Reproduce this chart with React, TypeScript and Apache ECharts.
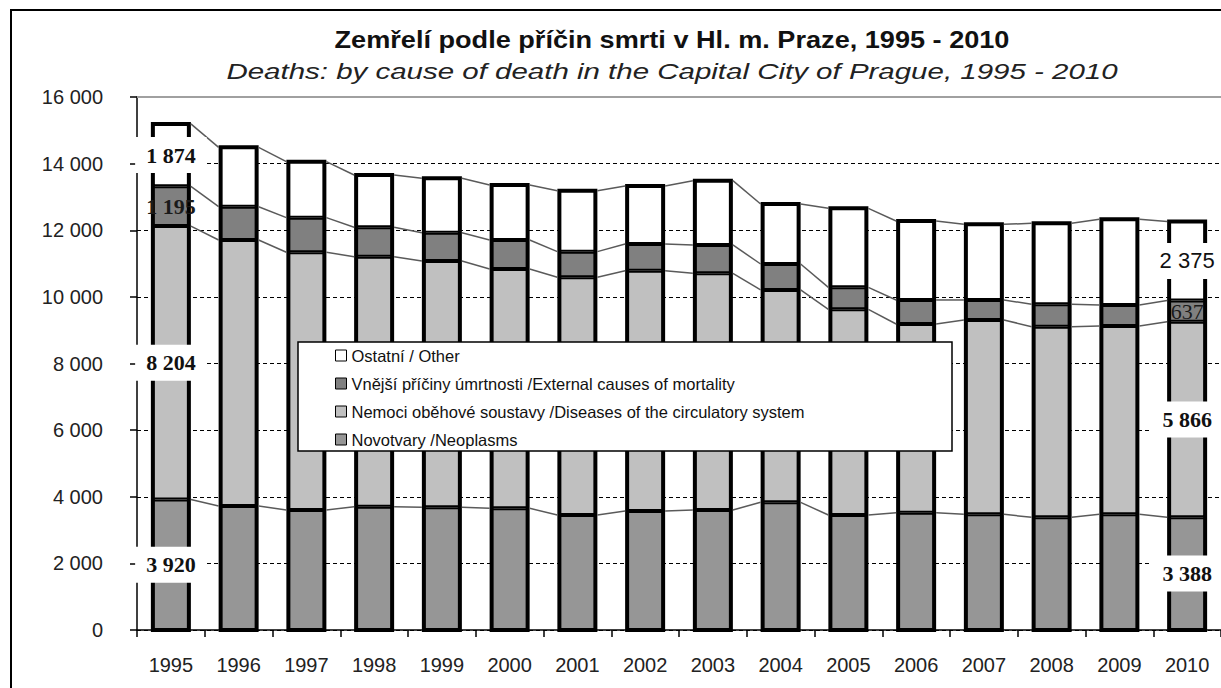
import React, { useEffect, useRef } from "react";
import * as echarts from "echarts";

const years = ["1995", "1996", "1997", "1998", "1999", "2000", "2001", "2002", "2003", "2004", "2005", "2006", "2007", "2008", "2009", "2010"];
const neoplasms = [3920, 3722, 3602, 3702, 3683, 3653, 3452, 3572, 3602, 3833, 3452, 3522, 3472, 3382, 3472, 3388];
const circulatory = [8204, 7986, 7736, 7505, 7394, 7184, 7136, 7215, 7106, 6374, 6175, 5664, 5834, 5724, 5654, 5866];
const external = [1195, 999, 1040, 882, 850, 871, 770, 801, 850, 780, 660, 721, 601, 671, 631, 637];
const other = [1874, 1783, 1681, 1570, 1633, 1651, 1831, 1741, 1931, 1801, 2371, 2371, 2271, 2431, 2571, 2375];

const names = [
  "Novotvary /Neoplasms",
  "Nemoci oběhové soustavy /Diseases of the circulatory system",
  "Vnější příčiny úmrtnosti /External causes of mortality",
  "Ostatní / Other",
];
const titleText = "Zemřelí podle příčin smrti v Hl. m. Praze, 1995 - 2010";
const subtitleText = "Deaths: by cause of death in the Capital City of Prague, 1995 - 2010";
const colors = ["#969696", "#c0c0c0", "#808080", "#ffffff"];
const yTicks = { min: 0, max: 16000, interval: 2000 };

const SANS = '"Liberation Sans", Arial, sans-serif';
const SERIF = '"Liberation Serif", "Times New Roman", serif';
const HALF = 20;
const BAR_W = 36;

const fmt = (v: number) => String(v).replace(/\B(?=(\d{3})+(?!\d))/g, " ");

const boxLabel = (fam: string, bold: boolean) => ({
  show: true,
  position: "inside",
  fontFamily: fam,
  fontWeight: bold ? "bold" : "normal",
  fontSize: 22,
  color: "#111",
  textBorderWidth: 0,
  backgroundColor: "#fff",
  padding: [7, 11],
});
const plainLabel = (fam: string, bold: boolean) => ({
  show: true,
  position: "inside",
  fontFamily: fam,
  fontWeight: bold ? "bold" : "normal",
  fontSize: 22,
  color: "#1a1a1a",
  textBorderWidth: 0,
});

export default function App() {
  const ref = useRef<HTMLDivElement>(null);
  useEffect(() => {
    if (!ref.current) return;
    const chart = echarts.init(ref.current, null, { renderer: "svg" });
    const stacks = [neoplasms, circulatory, external, other];
    const cums: number[][] = [];
    stacks.forEach((arr, k) => {
      cums.push(arr.map((v, i) => v + (k > 0 ? cums[k - 1][i] : 0)));
    });
    const firstLabels = [boxLabel(SERIF, true), boxLabel(SERIF, true), plainLabel(SERIF, true), boxLabel(SERIF, true)];
    const lastLabels = [boxLabel(SERIF, true), boxLabel(SERIF, true), plainLabel(SERIF, false), boxLabel(SANS, false)];

    const barSeries = stacks.map((arr, k) => ({
      name: names[k],
      type: "bar",
      stack: "total",
      barWidth: BAR_W,
      itemStyle: { color: colors[k], borderColor: "#000", borderWidth: 2 },
      label: { show: false, formatter: (p: any) => fmt(p.value) },
      data: arr.map((v, i) => {
        if (i === 0) return { value: v, label: firstLabels[k] };
        if (i === arr.length - 1) return { value: v, label: lastLabels[k] };
        return v;
      }),
      markLine:
        k === 0
          ? {
              silent: true,
              symbol: "none",
              label: { show: false },
              lineStyle: { color: "#a0a0a0", width: 2, type: "solid" },
              data: [{ yAxis: 16000 }],
            }
          : undefined,
      z: 3,
    }));

    const lineData = years.slice(0, -1).map((_, i) => [
      i,
      cums[0][i], cums[1][i], cums[2][i], cums[3][i],
      cums[0][i + 1], cums[1][i + 1], cums[2][i + 1], cums[3][i + 1],
    ]);
    const outlineData = years.map((_, i) => [i, cums[3][i]]);

    chart.setOption({
      animation: false,
      grid: { left: 137, right: 0, top: 97, bottom: 58 },
      legend: {
        data: [names[3], names[2], names[1], names[0]],
        orient: "vertical",
        left: 335,
        top: 347,
        padding: 0,
        itemGap: 11,
        itemWidth: 11,
        itemHeight: 11,
        icon: "rect",
        itemStyle: { borderColor: "#000", borderWidth: 1 },
        textStyle: { fontFamily: SANS, fontSize: 16.5, color: "#111", lineHeight: 16 },
        selectedMode: false,
        z: 6,
      },
      graphic: [
        {
          type: "rect",
          z: 5,
          shape: { x: 298, y: 342, width: 654, height: 109 },
          style: { fill: "#fff", stroke: "#000", lineWidth: 1.5 },
        },
        {
          type: "rect",
          z: 5,
          shape: { x: 11, y: 10, width: 1400, height: 900 },
          style: { fill: "none", stroke: "#000", lineWidth: 2 },
        },
        {
          type: "text",
          z: 5,
          x: 672,
          y: 28,
          scaleX: 1.13,
          style: {
            text: titleText,
            font: 'bold 24px "Liberation Sans", Arial, sans-serif',
            fill: "#111",
            textAlign: "center",
            textVerticalAlign: "top",
          },
        },
        {
          type: "text",
          z: 5,
          x: 672,
          y: 60,
          scaleX: 1.34,
          style: {
            text: subtitleText,
            font: 'italic 22px "Liberation Sans", Arial, sans-serif',
            fill: "#222",
            textAlign: "center",
            textVerticalAlign: "top",
          },
        },
      ],
      xAxis: {
        type: "category",
        data: years,
        axisLine: { lineStyle: { color: "#000", width: 1.5 } },
        axisTick: { show: true, length: 7, lineStyle: { color: "#000", width: 1.5 } },
        axisLabel: { fontFamily: SANS, fontSize: 20, color: "#222", margin: 25 },
      },
      yAxis: {
        type: "value",
        min: yTicks.min,
        max: yTicks.max,
        interval: yTicks.interval,
        axisLine: { show: true, lineStyle: { color: "#000", width: 1.5 } },
        axisTick: { show: true, length: 7, lineStyle: { color: "#000", width: 1.5 } },
        axisLabel: { fontFamily: SANS, fontSize: 20, color: "#222", margin: 34, formatter: (v: number) => fmt(v) },
        splitLine: { show: true, lineStyle: { color: "#000", width: 1, type: [4, 3] } },
      },
      series: [
        ...barSeries,
        {
          type: "custom",
          name: "outline",
          silent: true,
          z: 1,
          encode: { x: 0, y: 1 },
          data: outlineData,
          renderItem: (params: any, api: any) => {
            const i = api.value(0);
            const base = api.coord([i, 0]);
            const top = api.coord([i, api.value(1)])[1];
            return {
              type: "rect",
              shape: { x: base[0] - BAR_W / 2, y: top, width: BAR_W, height: base[1] - top },
              style: { fill: "none", stroke: "#000", lineWidth: 4 },
            };
          },
        },
        {
          type: "custom",
          name: "lines",
          silent: true,
          z: 2,
          encode: { x: 0, y: 1 },
          data: lineData,
          renderItem: (params: any, api: any) => {
            const i = api.value(0);
            const xa = api.coord([i, 0])[0] + HALF;
            const xb = api.coord([i + 1, 0])[0] - HALF;
            const children = [1, 2, 3, 4].map((k) => ({
              type: "line",
              shape: {
                x1: xa,
                y1: api.coord([i, api.value(k)])[1],
                x2: xb,
                y2: api.coord([i + 1, api.value(k + 4)])[1],
              },
              style: { stroke: "#5a5a5a", lineWidth: 1.5 },
            }));
            return { type: "group", children };
          },
        },
      ],
    });
    return () => chart.dispose();
  }, []);
  return <div ref={ref} style={{ position: "absolute", left: 0, top: 0, width: 1221, height: 688 }} />;
}
